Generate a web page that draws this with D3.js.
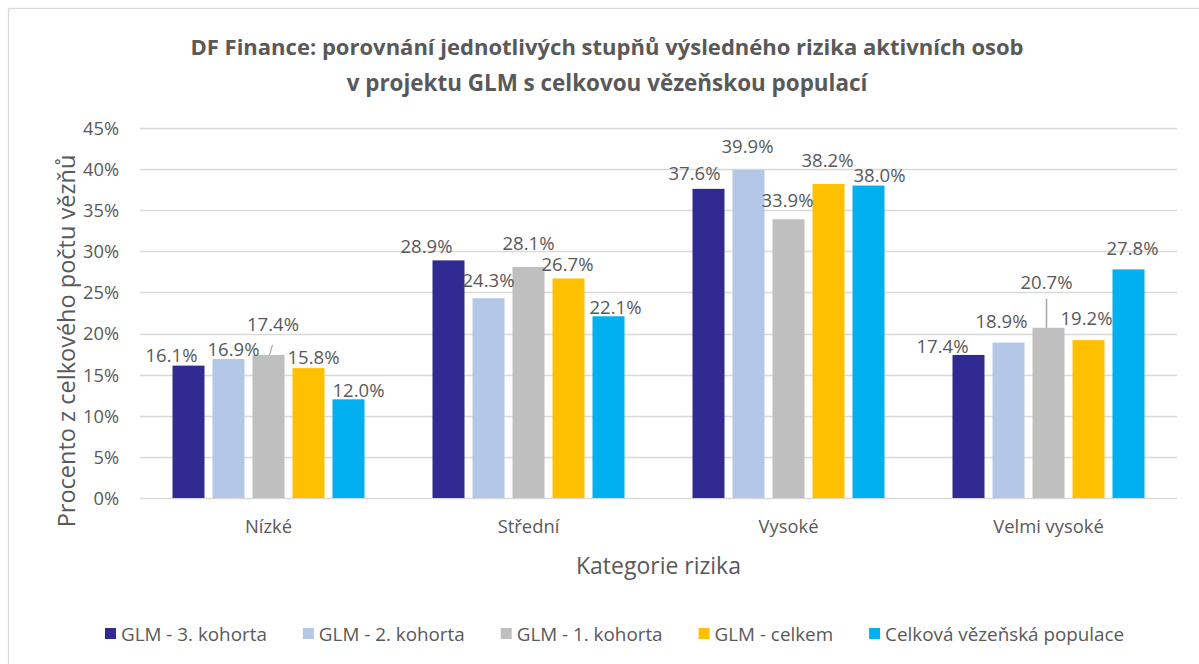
<!DOCTYPE html>
<html>
<head>
<meta charset="utf-8">
<script src="https://cdn.jsdelivr.net/npm/d3@7"></script>
<style>
  html, body { margin: 0; padding: 0; background: #fff; }
  svg { display: block; }
  text { font-family: "Open Sans", "Noto Sans", sans-serif; fill: #595959; }
</style>
</head>
<body>
<svg id="chart" width="1199" height="664"></svg>
<script>
// ---- data ----
const categories = ["Nízké", "Střední", "Vysoké", "Velmi vysoké"];
const seriesNames = ["GLM - 3. kohorta", "GLM - 2. kohorta", "GLM - 1. kohorta", "GLM - celkem", "Celková vězeňská populace"];
const glm3 = [16.1, 28.9, 37.6, 17.4];
const glm2 = [16.9, 24.3, 39.9, 18.9];
const glm1 = [17.4, 28.1, 33.9, 20.7];
const glmTotal = [15.8, 26.7, 38.2, 19.2];
const population = [12.0, 22.1, 38.0, 27.8];
const yTicks = [0, 5, 10, 15, 20, 25, 30, 35, 40, 45];

const titleLines = ["DF Finance: porovnání jednotlivých stupňů výsledného rizika aktivních osob",
                    "v projektu GLM s celkovou vězeňskou populací"];
const xTitle = "Kategorie rizika";
const yTitle = "Procento z celkového počtu vězňů";

// ---- styles / layout ----
const colors = ["#302A92", "#B4C7E7", "#BFBFBF", "#FFC000", "#00B0F0"];
const seriesValues = [glm3, glm2, glm1, glmTotal, population];
// label offsets [dx, dy, leader] relative to bar centre / bar top (layout only)
const labelLayout = [
  [[-17, -4], [-22, -7], [-14, -9], [-26, -2]],
  [[5, -3], [0, -11], [-1, -17], [-7, -15]],
  [[4.5, -24, "slant"], [0, -17], [-1, -12], [-2, -39, "vert"]],
  [[5, -4], [-1, -7], [-1, -17], [-2, -15]],
  [[10, -2], [7, -2], [11, -4], [4, -14]]
];

const svg = d3.select("#chart");
const plot = { left: 138.5, right: 1178.5, top: 128, bottom: 498 };

// helper: pick a font size so that a sample string has the target width
function fitSize(sample, target, weight) {
  const t = svg.append("text").style("font-size", "20px").style("font-weight", weight || "normal").text(sample);
  const w = t.node().getComputedTextLength();
  t.remove();
  return 20 * target / w;
}
const tickSize = fitSize("45%", 36);
const catSize = fitSize("Vysoké", 60);
const labelSize = fitSize("12.0%", 52);
const legendSize = fitSize("GLM - 3. kohorta", 146);

// chart border
svg.append("rect").attr("x", 8.5).attr("y", 8.5).attr("width", 1200).attr("height", 700)
  .attr("fill", "#fff").attr("stroke", "#D9D9D9").attr("stroke-width", 1.3);

const x0 = d3.scaleBand().domain(categories).range([plot.left, plot.right])
  .paddingInner(68 / 260).paddingOuter(34 / 260);
const x1 = d3.scaleBand().domain(seriesNames).range([0, x0.bandwidth()])
  .paddingInner(0.2).paddingOuter(0);
const y = d3.scaleLinear().domain([0, 45]).range([plot.bottom, plot.top]);

// gridlines
svg.append("g").selectAll("line").data(yTicks).join("line")
  .attr("x1", 140).attr("x2", 1177)
  .attr("y1", d => Math.round(y(d)) + 0.5).attr("y2", d => Math.round(y(d)) + 0.5)
  .attr("stroke", "#D9D9D9").attr("stroke-width", 1.5);

// y axis labels
const yAxis = d3.axisLeft(y).tickValues(yTicks).tickFormat(d => d + "%").tickSize(0).tickPadding(0);
const gy = svg.append("g").attr("transform", "translate(119,0)").call(yAxis);
gy.select(".domain").remove();
gy.selectAll("text").style("font-size", tickSize + "px").style("font-family", "Open Sans").attr("fill", "#595959")
  .attr("dy", "0.35em");

// x axis labels
const xAxis = d3.axisBottom(x0).tickSize(0).tickPadding(0);
const gx = svg.append("g").attr("transform", `translate(0,${plot.bottom})`).call(xAxis);
gx.select(".domain").remove();
gx.selectAll("text").style("font-size", catSize + "px").style("font-family", "Open Sans").attr("fill", "#595959")
  .attr("y", 35).attr("dy", 0);

// bars
const groups = svg.append("g").selectAll("g").data(seriesNames).join("g")
  .attr("fill", (d, i) => colors[i]);
groups.each(function (s, si) {
  d3.select(this).selectAll("rect").data(seriesValues[si]).join("rect")
    .attr("x", (v, ci) => x0(categories[ci]) + x1(s))
    .attr("width", x1.bandwidth())
    .attr("y", v => y(v))
    .attr("height", v => y(0) - y(v));
});

// data labels
const lbl = svg.append("g");
seriesNames.forEach((s, si) => {
  seriesValues[si].forEach((v, ci) => {
    const cx = x0(categories[ci]) + x1(s) + x1.bandwidth() / 2;
    const top = y(v);
    const [dx, dy, leader] = labelLayout[si][ci];
    lbl.append("text").attr("x", cx + dx).attr("y", top + dy)
      .attr("text-anchor", "middle").style("font-size", labelSize + "px").attr("fill", "#404040")
      .text(v.toFixed(1) + "%");
    if (leader === "slant") {
      lbl.append("line").attr("x1", cx + 1).attr("y1", top).attr("x2", cx + 4).attr("y2", top - 10)
        .attr("stroke", "#A6A6A6").attr("stroke-width", 1.2);
    } else if (leader === "vert") {
      lbl.append("line").attr("x1", cx - 2).attr("y1", top).attr("x2", cx - 2).attr("y2", top + dy + 10)
        .attr("stroke", "#A6A6A6").attr("stroke-width", 1.5);
    }
  });
});

// title
const titleTargets = [834, 521];
const titleBaselines = [55, 91];
titleLines.forEach((t, i) => {
  const size = fitSize(t, titleTargets[i], "bold");
  svg.append("text").attr("x", 607).attr("y", titleBaselines[i])
    .attr("text-anchor", "middle").style("font-size", size + "px").style("font-weight", "bold")
    .attr("fill", "#595959").text(t);
});

// axis titles
svg.append("text").attr("x", (plot.left + plot.right) / 2).attr("y", 574)
  .attr("text-anchor", "middle").style("font-size", fitSize(xTitle, 165) + "px").text(xTitle);
svg.append("text").attr("transform", `translate(75,341) rotate(-90)`)
  .attr("text-anchor", "middle").style("font-size", fitSize(yTitle, 373) + "px").text(yTitle);

// legend
const legend = svg.append("g").attr("transform", "translate(105,0)");
let lx = 0;
seriesNames.forEach((s, i) => {
  legend.append("rect").attr("x", lx).attr("y", 628).attr("width", 11).attr("height", 11).attr("fill", colors[i]);
  const t = legend.append("text").attr("x", lx + 16).attr("y", 641).style("font-size", legendSize + "px").text(s);
  lx += 16 + t.node().getComputedTextLength() + 36;
});
</script>
</body>
</html>
